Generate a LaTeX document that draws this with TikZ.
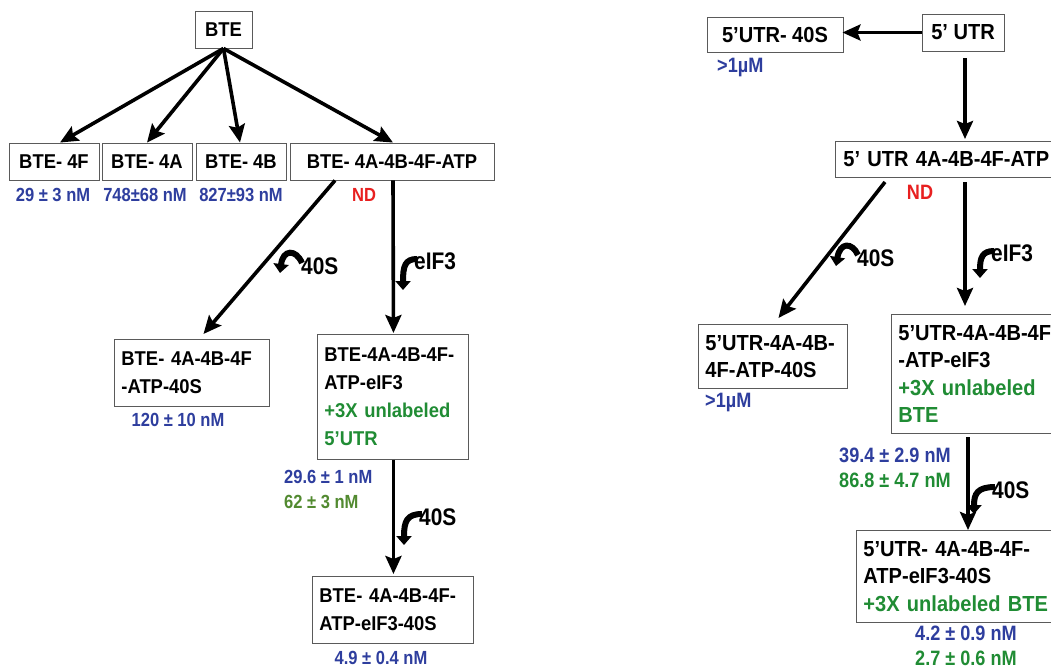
\documentclass[tikz,border=0pt]{standalone}
\usepackage{fontspec}
\setmainfont{Liberation Sans}
\newfontfamily\boxfont[FakeStretch=0.92,Ligatures=TeX]{Liberation Sans}
\newfontfamily\valfont[FakeStretch=0.87,Ligatures=TeX]{Liberation Sans}
\newfontfamily\tagfont[FakeStretch=0.87,Ligatures=TeX]{Liberation Sans}
\usetikzlibrary{arrows.meta,calc}

\definecolor{kdblue}{RGB}{46,62,158}
\definecolor{mixgreen}{RGB}{32,140,52}
\definecolor{kdolive}{RGB}{82,138,48}
\definecolor{ndred}{RGB}{232,32,32}
\definecolor{boxline}{RGB}{90,90,90}

\tikzset{
  txt/.style={font=\boxfont\bfseries\fontsize{20}{28}\selectfont},
  txtR/.style={font=\boxfont\bfseries\fontsize{21.8}{27.5}\selectfont},
  val/.style={font=\valfont\bfseries\fontsize{19}{25}\selectfont, inner sep=0pt},
  valR/.style={font=\valfont\bfseries\fontsize{20.8}{25}\selectfont, inner sep=0pt},
  tag/.style={font=\tagfont\bfseries\fontsize{24}{28}\selectfont, inner sep=0pt, anchor=west},
  box/.style={txt, draw=boxline, line width=0.9pt, inner sep=0pt},
  mbox/.style={box, align=left, inner xsep=7pt, anchor=north west},
  flow/.style={line width=3.6pt, -{Stealth[length=18pt,width=16pt,inset=3pt]}},
  recruit/.style={line width=6pt, -{Triangle[length=9pt,width=15pt]}},
}

\begin{document}
\begin{tikzpicture}[x=1pt,y=-1pt]
\useasboundingbox (0,0) rectangle (1051,670);
\fill[white] (0,0) rectangle (1051,670);
\clip (0,0) rectangle (1051,670);

% ---------------- BTE pathway ----------------
\node[box, minimum width=57, minimum height=37] (bte) at (223.5,29.5) {BTE};
\node[box, minimum width=90, minimum height=37] (b4f) at (54,161.5) {BTE- 4F};
\node[box, minimum width=90, minimum height=37] (b4a) at (147,161.5) {BTE- 4A};
\node[box, minimum width=90, minimum height=37] (b4b) at (241,161.5) {BTE- 4B};
\node[box, minimum width=204, minimum height=37] (batp) at (392,161.5) {BTE- 4A-4B-4F-ATP};

\node[val, text=kdblue] (kb4f) at (53,195) {29 ± 3 nM};
\node[val, text=kdblue] (kb4a) at (145,195) {748±68 nM};
\node[val, text=kdblue] (kb4b) at (241,195) {827±93 nM};
\node[val, text=ndred] (ndb) at (364,195) {ND};

\node[mbox, text width=141, minimum height=67] (b40s) at (114,339)
  {\mbox{BTE- 4A-4B-4F}\\-ATP-40S};
\node[val, text=kdblue] (kb40s) at (178,420) {120 ± 10 nM};

\node[mbox, text width=137, minimum height=125] (beif) at (317,334)
  {\mbox{BTE-4A-4B-4F-}\\ATP-eIF3\\\textcolor{mixgreen}{\mbox{+3X unlabeled}}\\\textcolor{mixgreen}{5’UTR}};
\node[val, text=kdblue, anchor=west] (kbeif) at (284,477) {29.6 ± 1 nM};
\node[val, text=kdolive, anchor=west] (kbeifc) at (284,502) {62 ± 3 nM};

\node[mbox, text width=147, minimum height=67] (bfin) at (312,576)
  {\mbox{BTE- 4A-4B-4F-}\\ATP-eIF3-40S};
\node[val, text=kdblue] (kbfin) at (381,658) {4.9 ± 0.4 nM};

\draw[flow] (bte.south) -- ($(b4f.north)+(6,0)$);
\draw[flow] (bte.south) -- (b4a.north);
\draw[flow] (bte.south) -- ($(b4b.north)+(-1,0)$);
\draw[flow] (bte.south) -- ($(batp.north)+(1,0)$);
\draw[flow] ($(batp.south)+(-57,0)$) -- ($(b40s.north)+(11.5,-5)$);
\draw[flow] ($(batp.south)+(1,0)$) -- ($(beif.north)+(0.5,-1)$);
\draw[flow] ($(beif.south)+(0.5,0)$) -- ($(bfin.north)+(0.5,-2)$);

% added factors
\node[tag] (fb40s) at (301,266) {40S};
\coordinate (tb40s) at (280,273);
\draw[recruit] ($(fb40s.west)+(1,-3)$) .. controls (296,249) and (283,249) .. (tb40s);

\node[tag] (fbeif) at (414,261) {eIF3};
\coordinate (tbeif) at (403,290);
\draw[recruit] ($(fbeif.west)+(3,-2)$) .. controls (405,259) and (403,266) .. (tbeif);

\node[tag] (fbfin) at (419,517) {40S};
\coordinate (tbfin) at (404,545);
\draw[recruit] ($(fbfin.west)+(3,-3)$) .. controls (407,514) and (404,521) .. (tbfin);

% ---------------- 5' UTR pathway ----------------
\node[box, txtR, minimum width=82, minimum height=37] (utr) at (963,32.5) {5’ UTR};
\node[box, txtR, minimum width=136, minimum height=35] (u40s) at (775,34.5) {5’UTR- 40S};
\node[valR, text=kdblue, anchor=west] (ku40s) at (717,68) {>1µM};

\node[box, txtR, minimum width=235, minimum height=36, anchor=west, inner xsep=8pt,
      text width=219, align=left] (uatp) at (835,159) {5’ UTR 4A-4B-4F-ATP};
\node[valR, text=ndred] (ndu) at (920,192) {ND};

\node[mbox, txtR, text width=135, minimum height=64] (u40sb) at (698,324)
  {\mbox{5’UTR-4A-4B-}\\4F-ATP-40S};
\node[valR, text=kdblue, anchor=west] (ku40sb) at (705,402) {>1µM};

\node[mbox, txtR, text width=166, minimum height=119] (ueif) at (891,314)
  {\mbox{5’UTR-4A-4B-4F}\\-ATP-eIF3\\\textcolor{mixgreen}{\mbox{+3X unlabeled}}\\\textcolor{mixgreen}{BTE}};
\node[valR, text=kdblue, anchor=west] (kueif) at (839,455) {39.4 ± 2.9 nM};
\node[valR, text=mixgreen, anchor=west] (kueifc) at (839,480) {86.8 ± 4.7 nM};

\node[mbox, txtR, text width=200, minimum height=92] (ufin) at (856,530)
  {\mbox{5’UTR- 4A-4B-4F-}\\ATP-eIF3-40S\\\textcolor{mixgreen}{\mbox{+3X unlabeled BTE}}};
\node[valR, text=kdblue, anchor=west] (kufin) at (915,633) {4.2 ± 0.9 nM};
\node[valR, text=mixgreen, anchor=west] (kufinc) at (915,658) {2.7 ± 0.6 nM};

\coordinate (utrdown) at (965,58);
\draw[flow] (utr.west) -- ($(u40s.east |- utr.west)+(-1,0)$);
\draw[flow] (utrdown) -- (965,139) coordinate (uatptop);
\coordinate (uatpd) at (885,182);
\coordinate (uatpv) at (965,182);
\draw[flow] (uatpd) -- ($(u40sb.north)+(5.5,-6)$);
\draw[flow] (uatpv) -- (965,306) coordinate (ueiftop);
\draw[flow] (968,437) coordinate (ueifbot) -- (968,530) coordinate (ufintop);

\node[tag] (fu40s) at (857,258) {40S};
\coordinate (tu40s) at (836,266);
\draw[recruit] ($(fu40s.west)+(1,-3)$) .. controls (852,242) and (840,242) .. (tu40s);

\node[tag] (fueif) at (991,253) {eIF3};
\coordinate (tueif) at (980,278);
\draw[recruit] ($(fueif.west)+(3,-2)$) .. controls (982,251) and (980,258) .. (tueif);

\node[tag] (fufin) at (992,490) {40S};
\coordinate (tufin) at (974,514);
\draw[recruit] ($(fufin.west)+(3,-3)$) .. controls (977,487) and (974,494) .. (tufin);
\end{tikzpicture}
\end{document}
